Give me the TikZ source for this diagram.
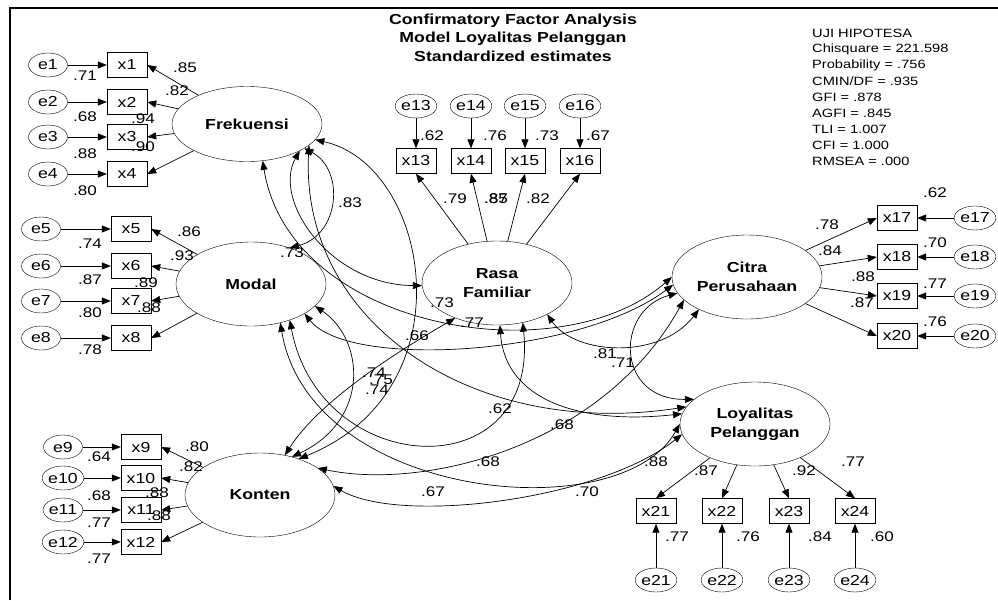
\documentclass[tikz,border=0pt]{standalone}
\usepackage{fontspec}
\setmainfont{Liberation Sans}[FakeStretch=1.22]
\usetikzlibrary{arrows.meta,shapes.geometric}
\begin{document}
\begin{tikzpicture}[x=1pt,y=-1pt,
  >={Triangle[length=9pt,width=7pt]},
  lat/.style={draw,ellipse,minimum width=150pt,minimum height=84pt,inner sep=0pt,
    align=center,font=\fontsize{14.5}{19}\selectfont\bfseries},
  obs/.style={draw,rectangle,minimum width=40pt,minimum height=25pt,inner sep=0pt,
    font=\fontsize{14.5}{16}\selectfont},
  err/.style={draw,ellipse,minimum width=39pt,minimum height=24pt,inner sep=0pt,
    font=\fontsize{14.5}{16}\selectfont},
  reg/.style={->,line width=0.7pt},
  cov/.style={<->,line width=0.7pt},
  lbl/.style={inner sep=0pt,font=\fontsize{14}{16}\selectfont},
  stat/.style={inner sep=0pt,anchor=west,font=\fontsize{12}{13}\selectfont},
]
\useasboundingbox (0,0) rectangle (998,600);
% frame
\draw[line width=1.6pt] (10,600) -- (10,8) -- (998,8);

% title and fit statistics
\node[align=center,inner sep=0pt,font=\fontsize{14.5}{18.5}\selectfont\bfseries] (title) at (513,37.5)
  {Confirmatory Factor Analysis\\Model Loyalitas Pelanggan\\Standardized estimates};
\foreach \t [count=\i from 0] in {UJI HIPOTESA,Chisquare = 221.598,Probability = .756,CMIN/DF = .935,
  GFI = .878,AGFI = .845,TLI = 1.007,CFI = 1.000,RMSEA = .000}
  \node[stat] (fit\i) at (812,33+16.1*\i) {\t};

% latent variables
\node[lat,minimum height=75pt] (F) at (247,124) {Frekuensi};
\node[lat] (M) at (251,284) {Modal};
\node[lat] (K) at (260,495) {Konten};
\node[lat] (R) at (497,283) {Rasa\\Familiar};
\node[lat] (C) at (747,277) {Citra\\Perusahaan};
\node[lat] (L) at (755,424) {Loyalitas\\Pelanggan};

% indicators and error terms, left blocks
\foreach \i/\y in {1/65,2/102,3/137,4/174} {
  \node[obs] (x\i) at (127,\y) {x\i};
  \node[err] (e\i) at (48,\y) {e\i};
  \draw[reg] (e\i) -- (x\i);
  \draw[reg] (F) -- (x\i.east);
}
\foreach \i/\y in {5/229,6/266,7/301,8/338} {
  \node[obs] (x\i) at (131,\y) {x\i};
  \node[err] (e\i) at (41,\y) {e\i};
  \draw[reg] (e\i) -- (x\i);
  \draw[reg] (M) -- (x\i.east);
}
\foreach \i/\y in {9/447,10/478,11/510,12/542} {
  \node[obs] (x\i) at (141,\y) {x\i};
  \node[err] (e\i) at (63,\y) {e\i};
  \draw[reg] (e\i) -- (x\i);
  \draw[reg] (K) -- (x\i.east);
}
% top block
\foreach \i/\x in {13/416,14/471,15/525,16/580} {
  \node[obs] (x\i) at (\x,161) {x\i};
  \node[err] (e\i) at (\x,106) {e\i};
  \draw[reg] (e\i) -- (x\i);
  \draw[reg] (R) -- (x\i.south);
}
% right block
\foreach \i/\y in {17/218,18/257,19/296,20/336} {
  \node[obs] (x\i) at (897,\y) {x\i};
  \node[err] (e\i) at (975,\y) {e\i};
  \draw[reg] (e\i) -- (x\i);
  \draw[reg] (C) -- (x\i.west);
}
% bottom block
\foreach \i/\x in {21/656,22/722,23/789,24/855} {
  \node[obs] (x\i) at (\x,511) {x\i};
  \node[err] (e\i) at (\x,580) {e\i};
  \draw[reg] (e\i) -- (x\i);
  \draw[reg] (L) -- (x\i.north);
}

% covariances between latent variables
\draw[cov] (F.-23) .. controls (345,170) and (340,235) .. (M.43);   % F-M
\draw[cov] (F.-27) .. controls (272,200) and (330,285) .. (R.182);  % F-R
\draw[cov] (F.-67) .. controls (290,330) and (560,375) .. (C.180);  % F-C
\draw[cov] (F.-13) .. controls (430,165) and (470,390) .. (K.43);   % F-K
\draw[cov] (F.-19) .. controls (300,320) and (470,440) .. (L.166);  % F-L
\draw[cov] (M.-43) .. controls (320,480) and (540,490) .. (R.-57);  % M-R
\draw[cov] (M.-29) .. controls (350,370) and (580,355) .. (C.186);  % M-C
\draw[cov] (M.-53) .. controls (310,500) and (620,530) .. (L.180);  % M-L
\draw[cov] (M.-19) .. controls (365,340) and (370,420) .. (K.50);   % M-K
\draw[cov] (R.-32) .. controls (575,355) and (660,360) .. (C.214);  % R-C
\draw[cov] (R.-86) .. controls (505,400) and (580,425) .. (L.172);  % R-L
\draw[cov] (R.220) .. controls (400,350) and (320,400) .. (K.58);   % R-K
\draw[cov] (C.193) .. controls (615,310) and (615,400) .. (L.158);  % C-L
\draw[cov] (C.200) .. controls (600,450) and (420,490) .. (K.25);   % C-K
\draw[cov] (L.188) .. controls (600,500) and (400,525) .. (K.7);    % L-K

% measurement labels
\foreach \v/\x/\y in {.71/85/76,.68/85/117,.88/85/154,.80/85/191,
  .85/185/68,.82/177/91,.94/143/119,.90/143/147,
  .74/90/244,.87/90/280,.80/90/313,.78/90/350,
  .86/189/232,.93/182/256,.89/146/283,.88/149/308,
  .64/99/457,.68/99/496,.77/99/523,.77/99/559,
  .80/197/447,.82/191/467,.88/157/493,.88/159/516,
  .62/432/136,.76/495/136,.73/547/136,.67/598/136,
  .79/455/199,.85/496/199,.87/496/199,.82/538/199,
  .62/935/193,.70/935/243,.77/935/284,.76/935/322,
  .78/827/225,.84/830/251,.88/863/277,.87/862/303,
  .77/677/537,.76/748/537,.84/820/537,.60/882/537,
  .88/656/462,.87/706/471,.92/804/471,.77/853/462}
  \node[lbl] at (\x,\y) {\v};

% correlation labels
\foreach \v/\x/\y in {.83/350/203,.73/292/253,.73/442/303,.77/472/323,.66/417/336,
  .81/605/354,.71/623/363,.74/374/373,.75/381/380,.74/377/390,
  .62/500/409,.68/562/425,.68/488/462,.67/433/492,.70/587/492}
  \node[lbl] at (\x,\y) {\v};
\end{tikzpicture}
\end{document}
